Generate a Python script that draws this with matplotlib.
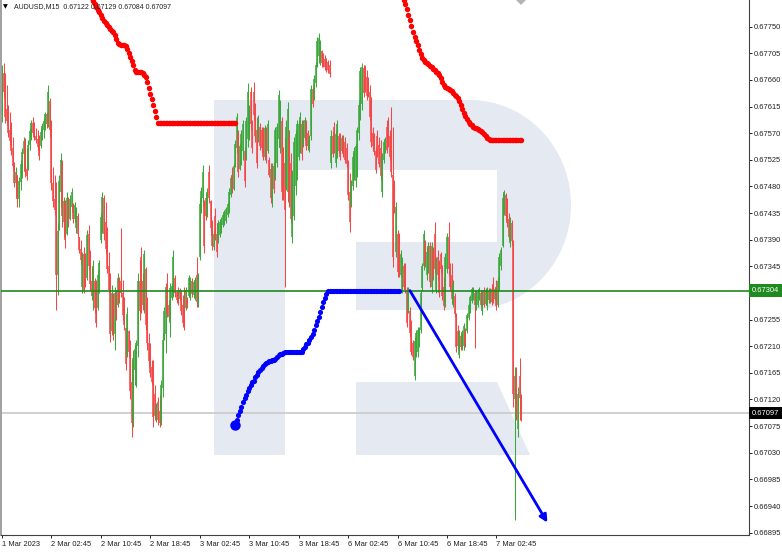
import numpy as np
import matplotlib.pyplot as plt
from matplotlib.patches import Polygon
from matplotlib.transforms import Affine2D, blended_transform_factory

plt.rcParams['font.family'] = ['Liberation Sans', 'DejaVu Sans']

SYMBOL = 'AUDUSD,M15'

# M15 bars, prices in 1e-5 units (points)
opens = [
    67600, 67672, 67640, 67610, 67600, 67575, 67560, 67545, 67515, 67486, 67500, 67458, 67488, 67515, 67535, 67556,
    67510, 67510, 67550, 67572, 67588, 67572, 67566, 67560, 67548, 67548, 67565, 67575, 67585, 67602, 67586, 67625,
    67575, 67485, 67458, 67440, 67330, 67410, 67470, 67520, 67420, 67450, 67400, 67458, 67425, 67445, 67450, 67425,
    67410, 67430, 67395, 67375, 67310, 67365, 67345, 67325, 67400, 67345, 67320, 67290, 67320, 67300, 67275, 67310,
    67390, 67420, 67460, 67420, 67380, 67345, 67310, 67235, 67295, 67230, 67300, 67280, 67322, 67320, 67300, 67270,
    67240, 67195, 67235, 67200, 67150, 67085, 67170, 67160, 67210, 67320, 67360, 67320, 67280, 67340, 67260, 67215,
    67200, 67175, 67160, 67130, 67090, 67115, 67100, 67082, 67140, 67225, 67230, 67315, 67280, 67250, 67292, 67300,
    67325, 67302, 67300, 67290, 67300, 67280, 67290, 67275, 67290, 67295, 67292, 67320, 67296, 67300, 67330, 67285,
    67360, 67440, 67460, 67450, 67460, 67432, 67505, 67455, 67415, 67378, 67430, 67400, 67388, 67398, 67405, 67415,
    67420, 67422, 67432, 67440, 67465, 67500, 67476, 67515, 67545, 67570, 67510, 67530, 67540, 67540, 67530, 67560,
    67565, 67640, 67580, 67640, 67610, 67575, 67560, 67580, 67575, 67570, 67530, 67575, 67540, 67525, 67510, 67460,
    67515, 67495, 67520, 67560, 67545, 67590, 67540, 67520, 67480, 67470, 67560, 67520, 67395, 67430, 67480, 67500,
    67530, 67545, 67585, 67550, 67562, 67588, 67570, 67542, 67565, 67645, 67628, 67655, 67688, 67700, 67690, 67708,
    67700, 67696, 67692, 67690, 67685, 67520, 67565, 67580, 67520, 67535, 67565, 67560, 67540, 67560, 67555, 67545,
    67518, 67470, 67448, 67480, 67500, 67490, 67500, 67570, 67600, 67620, 67680, 67675, 67665, 67655, 67640, 67605,
    67570, 67560, 67540, 67565, 67550, 67545, 67470, 67525, 67540, 67580, 67590, 67565, 67560, 67500, 67480, 67370,
    67400, 67390, 67330, 67305, 67345, 67340, 67305, 67268, 67270, 67240, 67215, 67160, 67195, 67200, 67212, 67238,
    67308, 67345, 67385, 67330, 67340, 67380, 67310, 67370, 67400, 67305, 67360, 67345, 67365, 67340, 67310, 67280,
    67340, 67395, 67345, 67330, 67280, 67295, 67262, 67235, 67195, 67228, 67208, 67210, 67236, 67235, 67258, 67270,
    67286, 67290, 67300, 67275, 67280, 67290, 67300, 67270, 67305, 67282, 67278, 67304, 67286, 67306, 67315, 67290,
    67310, 67280, 67310, 67345, 67380, 67440, 67465, 67450, 67425, 67385, 67418, 67385, 67120, 67160, 67070, 67160,
    67122,
]
highs = [
    67685, 67689, 67672, 67652, 67618, 67606, 67589, 67564, 67521, 67513, 67500, 67496, 67525, 67545, 67564, 67562,
    67545, 67559, 67579, 67592, 67597, 67589, 67579, 67575, 67567, 67579, 67587, 67595, 67606, 67606, 67652, 67630,
    67592, 67513, 67500, 67488, 67418, 67500, 67537, 67525, 67462, 67457, 67471, 67462, 67466, 67477, 67452, 67454,
    67445, 67435, 67395, 67390, 67369, 67378, 67368, 67407, 67415, 67373, 67344, 67356, 67325, 67322, 67339, 67356,
    67435, 67471, 67466, 67454, 67412, 67369, 67334, 67313, 67300, 67310, 67305, 67334, 67327, 67410, 67322, 67293,
    67243, 67276, 67238, 67221, 67187, 67204, 67212, 67221, 67334, 67356, 67378, 67334, 67373, 67344, 67293, 67232,
    67216, 67187, 67187, 67145, 67114, 67124, 67128, 67153, 67232, 67276, 67317, 67334, 67288, 67317, 67317, 67373,
    67330, 67305, 67310, 67308, 67305, 67297, 67310, 67310, 67293, 67330, 67327, 67325, 67322, 67327, 67361, 67334,
    67462, 67479, 67516, 67457, 67469, 67477, 67516, 67457, 67423, 67407, 67444, 67418, 67423, 67425, 67428, 67435,
    67440, 67445, 67454, 67477, 67500, 67513, 67520, 67559, 67604, 67575, 67554, 67575, 67592, 67547, 67597, 67655,
    67618, 67648, 67592, 67657, 67621, 67597, 67601, 67587, 67581, 67581, 67584, 67581, 67592, 67530, 67520, 67520,
    67521, 67581, 67587, 67643, 67626, 67597, 67547, 67564, 67592, 67623, 67575, 67537, 67508, 67564, 67575, 67592,
    67592, 67606, 67592, 67592, 67597, 67592, 67575, 67567, 67652, 67652, 67668, 67690, 67733, 67739, 67728, 67711,
    67706, 67702, 67697, 67694, 67694, 67575, 67572, 67589, 67575, 67592, 67570, 67570, 67567, 67567, 67564, 67554,
    67525, 67503, 67491, 67537, 67547, 67554, 67581, 67626, 67682, 67689, 67685, 67685, 67677, 67665, 67652, 67631,
    67581, 67570, 67547, 67575, 67564, 67559, 67537, 67559, 67564, 67592, 67597, 67575, 67614, 67581, 67491, 67454,
    67407, 67401, 67373, 67361, 67351, 67351, 67310, 67310, 67276, 67254, 67221, 67226, 67238, 67243, 67243, 67305,
    67351, 67407, 67390, 67378, 67386, 67386, 67386, 67378, 67420, 67361, 67373, 67356, 67369, 67347, 67327, 67368,
    67401, 67420, 67351, 67351, 67322, 67300, 67266, 67246, 67238, 67232, 67238, 67249, 67240, 67266, 67283, 67297,
    67310, 67310, 67305, 67305, 67305, 67310, 67305, 67305, 67310, 67308, 67310, 67308, 67308, 67313, 67327, 67310,
    67322, 67327, 67368, 67378, 67469, 67474, 67469, 67461, 67435, 67428, 67423, 67390, 67175, 67175, 67141, 67190,
    67129,
]
lows = [
    67589, 67630, 67587, 67584, 67564, 67550, 67533, 67508, 67479, 67462, 67445, 67445, 67474, 67494, 67508, 67496,
    67491, 67508, 67542, 67559, 67564, 67559, 67554, 67542, 67525, 67545, 67559, 67562, 67575, 67579, 67581, 67564,
    67474, 67445, 67432, 67271, 67297, 67407, 67445, 67412, 67395, 67376, 67398, 67412, 67423, 67437, 67418, 67420,
    67401, 67395, 67368, 67347, 67300, 67300, 67310, 67322, 67339, 67305, 67288, 67271, 67266, 67243, 67271, 67300,
    67385, 67401, 67390, 67368, 67334, 67300, 67217, 67229, 67221, 67204, 67254, 67276, 67283, 67293, 67254, 67238,
    67170, 67192, 67192, 67120, 67057, 67074, 67145, 67141, 67192, 67254, 67266, 67271, 67266, 67238, 67204, 67175,
    67158, 67145, 67074, 67085, 67082, 67077, 67074, 67077, 67124, 67221, 67199, 67259, 67254, 67226, 67288, 67293,
    67293, 67283, 67280, 67288, 67263, 67243, 67238, 67271, 67275, 67293, 67288, 67293, 67292, 67288, 67276, 67276,
    67356, 67435, 67445, 67368, 67423, 67428, 67452, 67398, 67373, 67373, 67390, 67361, 67385, 67395, 67401, 67412,
    67415, 67418, 67428, 67435, 67462, 67469, 67474, 67513, 67537, 67496, 67508, 67516, 67525, 67479, 67525, 67547,
    67559, 67575, 67537, 67592, 67555, 67511, 67555, 67542, 67537, 67525, 67525, 67520, 67537, 67496, 67452, 67445,
    67469, 67491, 67513, 67547, 67537, 67457, 67457, 67310, 67474, 67454, 67445, 67418, 67385, 67423, 67466, 67491,
    67525, 67537, 67525, 67547, 67559, 67542, 67542, 67538, 67559, 67614, 67626, 67648, 67682, 67689, 67685, 67682,
    67682, 67677, 67674, 67672, 67665, 67511, 67530, 67537, 67513, 67528, 67537, 67525, 67538, 67530, 67520, 67513,
    67457, 67403, 67445, 67474, 67491, 67479, 67496, 67559, 67592, 67609, 67631, 67640, 67626, 67631, 67592, 67547,
    67542, 67533, 67503, 67530, 67513, 67491, 67462, 67520, 67537, 67537, 67547, 67525, 67496, 67344, 67435, 67361,
    67327, 67327, 67327, 67300, 67305, 67300, 67243, 67266, 67226, 67195, 67187, 67153, 67192, 67192, 67209, 67232,
    67305, 67339, 67344, 67322, 67334, 67310, 67300, 67322, 67334, 67300, 67322, 67293, 67334, 67288, 67271, 67276,
    67334, 67330, 67305, 67283, 67276, 67259, 67200, 67204, 67190, 67204, 67204, 67204, 67209, 67232, 67254, 67266,
    67283, 67288, 67207, 67271, 67276, 67288, 67276, 67263, 67276, 67280, 67271, 67283, 67283, 67280, 67283, 67288,
    67271, 67276, 67305, 67339, 67378, 67432, 67423, 67412, 67390, 67378, 67381, 67107, 66916, 67085, 67057, 67085,
    67084,
]
closes = [
    67672, 67640, 67598, 67590, 67570, 67556, 67540, 67515, 67486, 67505, 67458, 67490, 67518, 67538, 67556, 67505,
    67498, 67550, 67574, 67588, 67570, 67564, 67558, 67546, 67532, 67572, 67582, 67590, 67602, 67586, 67640, 67575,
    67485, 67455, 67440, 67330, 67405, 67490, 67525, 67430, 67455, 67390, 67460, 67420, 67458, 67470, 67425, 67448,
    67440, 67400, 67372, 67355, 67360, 67305, 67318, 67398, 67345, 67315, 67295, 67345, 67275, 67250, 67330, 67350,
    67428, 67462, 67400, 67375, 67340, 67305, 67230, 67300, 67230, 67300, 67260, 67325, 67290, 67300, 67262, 67245,
    67180, 67265, 67200, 67135, 67080, 67190, 67205, 67215, 67320, 67270, 67275, 67280, 67365, 67245, 67215, 67185,
    67165, 67150, 67090, 67092, 67110, 67085, 67080, 67145, 67220, 67270, 67310, 67265, 67260, 67308, 67312, 67360,
    67300, 67288, 67285, 67305, 67270, 67250, 67245, 67305, 67280, 67325, 67320, 67298, 67318, 67322, 67285, 67328,
    67450, 67472, 67505, 67380, 67430, 67470, 67460, 67410, 67380, 67400, 67395, 67370, 67418, 67420, 67424, 67432,
    67436, 67442, 67450, 67470, 67495, 67475, 67515, 67552, 67598, 67505, 67548, 67568, 67585, 67490, 67590, 67640,
    67610, 67585, 67545, 67600, 67565, 67520, 67595, 67548, 67545, 67530, 67578, 67525, 67585, 67500, 67460, 67512,
    67475, 67575, 67580, 67635, 67618, 67470, 67465, 67440, 67580, 67610, 67455, 67425, 67500, 67555, 67568, 67585,
    67585, 67598, 67535, 67585, 67592, 67548, 67548, 67562, 67645, 67620, 67662, 67685, 67725, 67730, 67720, 67688,
    67686, 67682, 67678, 67676, 67670, 67565, 67535, 67542, 67568, 67585, 67540, 67530, 67562, 67535, 67525, 67518,
    67465, 67420, 67485, 67530, 67540, 67548, 67575, 67618, 67675, 67682, 67638, 67645, 67632, 67635, 67598, 67555,
    67548, 67538, 67508, 67535, 67518, 67498, 67530, 67555, 67560, 67542, 67552, 67530, 67505, 67360, 67440, 67445,
    67335, 67335, 67365, 67355, 67310, 67305, 67250, 67305, 67232, 67200, 67192, 67218, 67232, 67238, 67238, 67300,
    67345, 67400, 67350, 67370, 67380, 67318, 67380, 67330, 67340, 67355, 67330, 67300, 67340, 67295, 67278, 67360,
    67395, 67340, 67310, 67290, 67315, 67265, 67208, 67210, 67232, 67208, 67234, 67244, 67212, 67262, 67280, 67293,
    67306, 67306, 67280, 67300, 67302, 67306, 67280, 67300, 67280, 67304, 67305, 67288, 67305, 67284, 67290, 67306,
    67278, 67320, 67360, 67372, 67460, 67470, 67430, 67418, 67395, 67422, 67388, 67130, 67160, 67100, 67130, 67122,
    67097,
]

time_labels = ['1 Mar 2023', '2 Mar 02:45', '2 Mar 10:45', '2 Mar 18:45', '3 Mar 02:45', '3 Mar 10:45',
               '3 Mar 18:45', '6 Mar 02:45', '6 Mar 10:45', '6 Mar 18:45', '7 Mar 02:45']
price_ticks = [67750, 67705, 67660, 67615, 67570, 67525, 67480, 67435, 67390, 67345,
               67300, 67255, 67210, 67165, 67120, 67075, 67030, 66985, 66940, 66895]

# red trailing dots, first one sits on bar 57
red1_start = 57
red1 = [67804, 67799, 67793, 67788, 67783, 67778, 67775, 67770, 67765, 67760, 67756, 67753, 67750, 67746,
        67743, 67741, 67736, 67729, 67723, 67721, 67719, 67719, 67719, 67717, 67712, 67706, 67699, 67692,
        67685, 67677, 67674, 67674, 67674, 67674, 67672, 67668, 67665, 67657, 67646, 67636, 67628, 67618,
        67608, 67597, 67587, 67587, 67587, 67587, 67587, 67587, 67587, 67587, 67587, 67587, 67587, 67587,
        67587, 67587, 67587, 67587, 67587, 67587, 67587, 67587, 67587, 67587, 67587, 67587, 67587, 67587,
        67587, 67587, 67587, 67587, 67587, 67587, 67587, 67587, 67587, 67587, 67587, 67587, 67587, 67587,
        67587, 67587, 67587, 67587, 67587, 67587, 67587, 67587, 67587, 67587, 67587]
red2_start = 259
red2 = [67800, 67795, 67788, 67780, 67770, 67761, 67751, 67741, 67733, 67726, 67719, 67711, 67704, 67697,
        67694, 67690, 67689, 67687, 67684, 67682, 67679, 67677, 67674, 67672, 67668, 67663, 67657, 67652,
        67648, 67646, 67645, 67643, 67641, 67638, 67635, 67633, 67630, 67625, 67618, 67611, 67604, 67599,
        67594, 67589, 67586, 67584, 67581, 67579, 67579, 67577, 67575, 67574, 67572, 67569, 67565, 67562,
        67560, 67559, 67559, 67559, 67559, 67559, 67559, 67559, 67559, 67559, 67559, 67559, 67559, 67559,
        67559, 67559, 67559, 67559, 67559, 67559, 67559, 67559]
blue_start = 151
blue = [67077, 67085, 67093, 67100, 67108, 67115, 67122, 67128, 67135, 67140, 67145, 67149, 67152, 67158,
        67162, 67166, 67170, 67174, 67177, 67180, 67182, 67184, 67185, 67185, 67186, 67186, 67188, 67192,
        67195, 67196, 67197, 67198, 67200, 67200, 67200, 67200, 67200, 67200, 67200, 67200, 67200, 67200,
        67200, 67200, 67205, 67209, 67213, 67216, 67220, 67226, 67230, 67237, 67245, 67252, 67260, 67268,
        67276, 67284, 67292, 67298, 67304, 67304, 67304, 67304, 67304, 67304, 67304, 67304, 67304, 67304,
        67304, 67304, 67304, 67304, 67304, 67304, 67304, 67304, 67304, 67304, 67304, 67304, 67304, 67304,
        67304, 67304, 67304, 67304, 67304, 67304, 67304, 67304, 67304, 67304, 67304, 67304, 67304, 67304,
        67304, 67304, 67304, 67304, 67304, 67304, 67304, 67304, 67304]

level_price = 67304
forecast_bars = [264, 353]
forecast_prices = [67304, 66912]


def pts(a):
    return np.asarray(a, dtype=float) / 1e5


W, H = 782, 553
BAR_PX = 1.545          # pixel distance between bars
PLOT_L, PLOT_R, PLOT_B = 1, 749, 535
GREEN = '#1f8a1f'

fig = plt.figure(figsize=(W / 100, H / 100), dpi=100)
ax = fig.add_axes([PLOT_L / W, 1 - PLOT_B / H, (PLOT_R - PLOT_L) / W, PLOT_B / H])
ax.set_xlim((PLOT_L - 2) / BAR_PX, (PLOT_R - 2) / BAR_PX)
ax.set_ylim(0.66891, 0.67795)

# watermark logo, drawn in pixel coordinates
px = Affine2D().scale(1 / W, -1 / H).translate(0, 1) + fig.transFigure
th = np.linspace(-np.pi / 2, np.pi / 2, 60)
bowl = [(214, 100)] + list(zip(470 + 101 * np.cos(th), 205 + 105 * np.sin(th))) + \
       [(356, 310), (356, 242), (497, 242), (497, 170), (285, 170), (285, 455), (214, 455)]
ax.add_patch(Polygon(bowl, closed=True, transform=px, fc='#e4e9f2', ec='none', zorder=0))
ax.add_patch(Polygon([(356, 382), (497, 382), (530, 455), (356, 455)], closed=True,
                     transform=px, fc='#e4e9f2', ec='none', zorder=0))
# chart shift marker at the top
ax.add_patch(Polygon([(516, 0), (526, 0), (521, 5)], closed=True, transform=px,
                     fc='#b4b4b4', ec='none', zorder=6, clip_on=False))

o, h, l, c = pts(opens), pts(highs), pts(lows), pts(closes)
idx = np.arange(len(c))
cols = np.where(c >= o, '#3ca83c', '#f44848')
ax.vlines(idx, l, h, colors=cols, lw=0.75, zorder=2)
ax.vlines(idx, np.minimum(o, c), np.maximum(o, c), colors=cols, lw=1.15, zorder=2)

ax.axhline(c[-1], color='#cdcdcd', lw=1.3, zorder=1)
ax.axhline(level_price / 1e5, color=GREEN, lw=1.2, zorder=3)

ax.plot(np.arange(red1_start, red1_start + len(red1)), pts(red1), 'o', ms=3.9, color='#ff0000', mew=0, zorder=4)
ax.plot(np.arange(red2_start, red2_start + len(red2)), pts(red2), 'o', ms=3.9, color='#ff0000', mew=0, zorder=4)
ax.plot(np.arange(blue_start, blue_start + len(blue)), pts(blue), 'o', ms=3.7, color='#0000ff', mew=0, zorder=4)
ax.plot(blue_start, blue[0] / 1e5, 'o', ms=7.5, color='#0000ff', mew=0, zorder=4)
fp = pts(forecast_prices)
ax.annotate('', xy=(forecast_bars[1], fp[1]), xytext=(forecast_bars[0], fp[0]),
            arrowprops=dict(arrowstyle='-|>', color='#0000ff', lw=2, mutation_scale=11, shrinkA=0, shrinkB=0),
            zorder=5)

# axes cosmetics
ax.spines['top'].set_visible(False)
ax.spines['left'].set_color('#a0a0a0')
ax.spines['left'].set_linewidth(1.4)
ax.spines['right'].set_color('#404040')
ax.spines['right'].set_linewidth(0.8)
ax.spines['bottom'].set_color('#404040')
ax.spines['bottom'].set_linewidth(0.8)

# the level box covers the 0.67300 label, so that one is left blank
ax.yaxis.tick_right()
ax.set_yticks(pts(price_ticks))
ax.set_yticklabels(['' if abs(p - level_price) < 10 else f'{p / 1e5:.5f}' for p in price_ticks])
ax.tick_params(axis='y', length=2.2, width=0.7, pad=1.2, labelsize=5.4, colors='#202020')
ax.set_xticks(np.arange(len(time_labels)) * 32)
ax.set_xticklabels(time_labels)
ax.tick_params(axis='x', length=2.5, width=0.7, pad=1.5, labelsize=5.4, colors='#202020')
for lbl in ax.get_xticklabels():
    lbl.set_ha('left')

ybox = blended_transform_factory(ax.transAxes, ax.transData)
ax.text(1.004, level_price / 1e5, f'{level_price / 1e5:.5f}', transform=ybox, ha='left', va='center',
        fontsize=5.4, color='white', clip_on=False, zorder=20,
        bbox=dict(boxstyle='square,pad=0.35', fc=GREEN, ec='none'))
ax.text(1.004, c[-1], f'{c[-1]:.5f}', transform=ybox, ha='left', va='center',
        fontsize=5.4, color='white', clip_on=False, zorder=20,
        bbox=dict(boxstyle='square,pad=0.35', fc='black', ec='none'))

fig.text(3 / W, 1 - 7 / H, '▼', fontsize=4.5, family='DejaVu Sans', va='center')
fig.text(14 / W, 1 - 7 / H, f'{SYMBOL}  {o[-1]:.5f} {h[-1]:.5f} {l[-1]:.5f} {c[-1]:.5f}',
         fontsize=5, va='center', color='#202020')

fig.savefig('out.png', dpi=100)
